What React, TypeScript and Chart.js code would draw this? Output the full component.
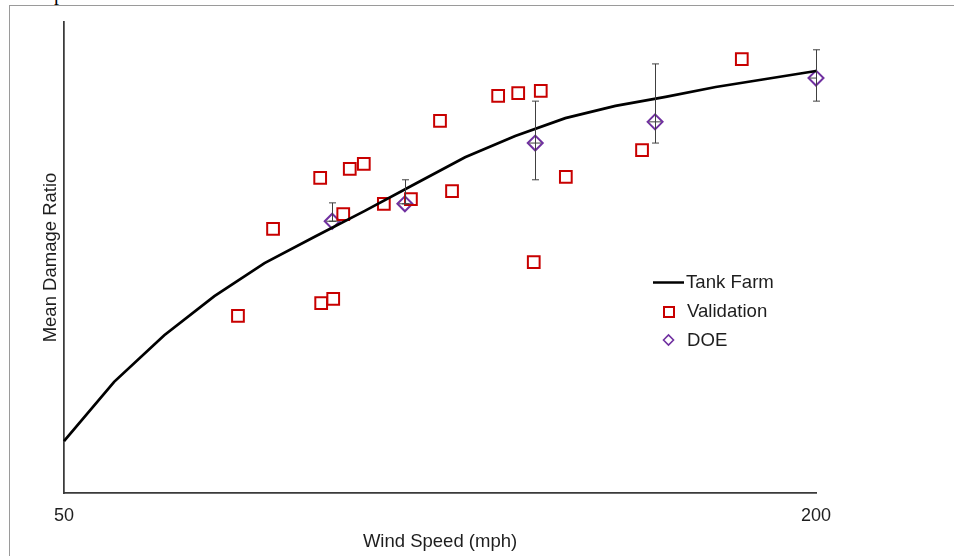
import React, { useEffect, useRef } from 'react';
import { Chart, registerables } from 'chart.js';

Chart.register(...registerables);

// ---- data ----
const windSpeeds = [50, 60, 70, 80, 90, 100, 110, 120, 130, 140, 150, 160, 170, 180, 190, 200];
const tankFarm = [0.110, 0.236, 0.335, 0.418, 0.488, 0.544, 0.599, 0.656, 0.713, 0.758, 0.796, 0.822, 0.841, 0.862, 0.879, 0.896];

const validationX = [84.7, 91.7, 101.1, 101.3, 103.7, 105.7, 107.0, 109.8, 113.8, 119.2, 125.0, 127.4, 136.6, 140.6, 143.7, 145.1, 150.1, 165.3, 185.2];
const validationY = [0.376, 0.561, 0.669, 0.403, 0.412, 0.592, 0.688, 0.699, 0.614, 0.624, 0.790, 0.641, 0.843, 0.849, 0.490, 0.854, 0.671, 0.728, 0.921];

const doeX = [103.5, 118.0, 144.0, 167.9, 200];
const doeY = [0.577, 0.614, 0.743, 0.788, 0.881];
const doeHigh = [0.616, 0.665, 0.832, 0.911, 0.941];
const doeLow = [0.577, 0.614, 0.665, 0.743, 0.832];
const doeXErr = [1.2, 1.2, 1.2, 1.2, 1.2];

const xTicks = [50, 200];
const xMin = 50;
const xMax = 200;
const yMin = 0;
const yMax = 1;

const seriesNames = ['Tank Farm', 'Validation', 'DOE'];
const xTitle = 'Wind Speed (mph)';
const yTitle = 'Mean Damage Ratio';

const FONT = '"Liberation Sans", Arial, sans-serif';
const RED = '#C80000';
const PURPLE = '#7030A0';
const TEXT = '#1e1e1e';
const AXIS = '#3a3a3a';

const errorBarPlugin = {
  id: 'errorBars',
  afterDatasetsDraw(chart: any) {
    const { ctx, chartArea } = chart;
    const x = chart.scales.x;
    const y = chart.scales.y;
    ctx.save();
    ctx.strokeStyle = '#404040';
    ctx.lineWidth = 1;
    doeX.forEach((xv, i) => {
      const px = Math.round(x.getPixelForValue(xv)) + 0.5;
      const top = y.getPixelForValue(doeHigh[i]);
      const bot = y.getPixelForValue(doeLow[i]);
      const cy = y.getPixelForValue(doeY[i]);
      ctx.beginPath();
      ctx.moveTo(px, top);
      ctx.lineTo(px, bot);
      ctx.moveTo(px - 3.5, top);
      ctx.lineTo(px + 3.5, top);
      ctx.moveTo(px - 3.5, bot);
      ctx.lineTo(px + 3.5, bot);
      const l = Math.max(x.getPixelForValue(xv - doeXErr[i]), chartArea.left);
      const r = Math.min(x.getPixelForValue(xv + doeXErr[i]), chartArea.right);
      ctx.moveTo(l, cy);
      ctx.lineTo(r, cy);
      ctx.stroke();
    });
    ctx.restore();
  },
};

const legendPlugin = {
  id: 'insideLegend',
  afterDraw(chart: any) {
    const { ctx } = chart;
    ctx.save();
    ctx.font = `18.6px ${FONT}`;
    ctx.fillStyle = TEXT;
    ctx.textBaseline = 'middle';
    ctx.textAlign = 'left';
    // Tank Farm
    ctx.strokeStyle = '#000';
    ctx.lineWidth = 2.5;
    ctx.beginPath();
    ctx.moveTo(653, 282.5);
    ctx.lineTo(684, 282.5);
    ctx.stroke();
    ctx.fillText(seriesNames[0], 686, 283);
    // Validation
    ctx.strokeStyle = RED;
    ctx.lineWidth = 2;
    ctx.strokeRect(664, 307, 10, 10);
    ctx.fillText(seriesNames[1], 687, 312);
    // DOE
    ctx.strokeStyle = PURPLE;
    ctx.lineWidth = 1.6;
    ctx.beginPath();
    ctx.moveTo(663.5, 340);
    ctx.lineTo(668.5, 335);
    ctx.lineTo(673.5, 340);
    ctx.lineTo(668.5, 345);
    ctx.closePath();
    ctx.stroke();
    ctx.fillText(seriesNames[2], 687, 341);
    ctx.restore();
  },
};

export default function App() {
  const ref = useRef<HTMLCanvasElement | null>(null);

  useEffect(() => {
    if (!ref.current) return;
    const chart = new Chart(ref.current, {
      type: 'scatter',
      data: {
        datasets: [
          {
            type: 'line',
            label: seriesNames[0],
            data: windSpeeds.map((v, i) => ({ x: v, y: tankFarm[i] })),
            borderColor: '#000',
            borderWidth: 2.75,
            pointRadius: 0,
            tension: 0,
            fill: false,
            clip: false,
          } as any,
          {
            label: seriesNames[1],
            data: validationX.map((v, i) => ({ x: v, y: validationY[i] })),
            pointStyle: 'rect',
            pointRadius: 8.3,
            borderColor: RED,
            backgroundColor: 'rgba(0,0,0,0)',
            pointBorderWidth: 2,
            clip: false,
          } as any,
          {
            label: seriesNames[2],
            data: doeX.map((v, i) => ({ x: v, y: doeY[i] })),
            pointStyle: 'rectRot',
            pointRadius: 7.5,
            borderColor: PURPLE,
            backgroundColor: 'rgba(0,0,0,0)',
            pointBorderWidth: 2,
            clip: false,
          } as any,
        ],
      },
      options: {
        animation: false,
        responsive: false,
        maintainAspectRatio: false,
        layout: { padding: { left: 0, top: 22, right: 138, bottom: 0 } },
        plugins: {
          legend: { display: false },
          tooltip: { enabled: false },
        },
        scales: {
          x: {
            type: 'linear',
            min: xMin,
            max: xMax,
            grid: { display: false, drawTicks: false },
            border: { display: true, color: AXIS, width: 1.75 },
            afterBuildTicks: (s: any) => {
              s.ticks = xTicks.map((v) => ({ value: v }));
            },
            afterFit: (s: any) => {
              s.height = 63;
              s.paddingLeft = 0;
              s.paddingRight = 0;
            },
            ticks: {
              padding: 12,
              color: TEXT,
              font: { family: FONT, size: 18 },
              maxRotation: 0,
              autoSkip: false,
              callback: (v: any) => String(v),
            },
            title: {
              display: true,
              text: xTitle,
              color: TEXT,
              font: { family: FONT, size: 18.5 },
              padding: { top: 0, bottom: 3 },
            },
          },
          y: {
            type: 'linear',
            min: yMin,
            max: yMax,
            grid: { display: false, drawTicks: false },
            border: { display: true, color: AXIS, width: 1.75 },
            ticks: { display: false },
            afterFit: (s: any) => {
              s.width = 64;
              s.paddingTop = 0;
              s.paddingBottom = 0;
            },
            title: {
              display: true,
              text: yTitle,
              color: TEXT,
              font: { family: FONT, size: 18.5 },
              padding: { top: 40, bottom: 0 },
            },
          },
        },
      } as any,
      plugins: [errorBarPlugin, legendPlugin],
    });
    return () => chart.destroy();
  }, []);

  return (
    <div style={{ position: 'absolute', left: 0, top: 0, width: 954, height: 556, background: '#fff', overflow: 'hidden' }}>
      <div style={{ position: 'absolute', left: 54, top: 0, width: 20, height: 5, overflow: 'hidden' }}>
        <span style={{ position: 'absolute', left: 0, top: -17, fontFamily: '"Liberation Serif", serif', fontSize: 20, lineHeight: '20px', color: '#000' }}>p</span>
      </div>
      <div style={{ position: 'absolute', left: 9, top: 5, width: 960, height: 560, borderLeft: '1px solid #9a9a9a', borderTop: '1px solid #9a9a9a' }} />
      <canvas ref={ref} width={954} height={556} style={{ position: 'absolute', left: 0, top: 0, width: 954, height: 556 }} />
    </div>
  );
}
